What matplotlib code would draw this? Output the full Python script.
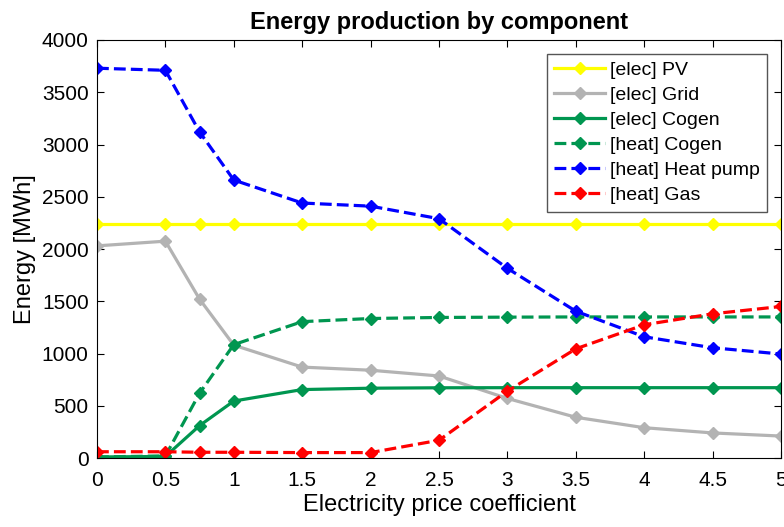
import matplotlib.pyplot as plt

# electricity price coefficient
x = [0, 0.5, 0.75, 1, 1.5, 2, 2.5, 3, 3.5, 4, 4.5, 5]

# energy [MWh]
elec_pv = [2240] * 12
elec_grid = [2030, 2075, 1520, 1080, 870, 840, 785, 570, 390, 290, 240, 210]
elec_cogen = [10, 15, 310, 545, 655, 668, 672, 673, 673, 673, 673, 673]
heat_cogen = [10, 20, 620, 1085, 1305, 1335, 1345, 1348, 1350, 1350, 1350, 1350]
heat_pump = [3730, 3710, 3120, 2660, 2440, 2410, 2290, 1815, 1405, 1160, 1055, 995]
heat_gas = [60, 60, 55, 55, 52, 52, 170, 640, 1045, 1275, 1380, 1450]

plt.rcParams['font.family'] = ['Liberation Sans', 'DejaVu Sans']

fig = plt.figure(figsize=(7.84, 5.27), dpi=100)
ax = fig.add_axes([0.1237, 0.1309, 0.8725, 0.7932])

lw = 2.3
ms = 6
ax.plot(x, elec_pv, '-D', color='#ffff00', lw=lw, ms=ms, label='[elec] PV')
ax.plot(x, elec_grid, '-D', color='#b3b3b3', lw=lw, ms=ms, label='[elec] Grid')
ax.plot(x, elec_cogen, '-D', color='#009650', lw=lw, ms=ms, label='[elec] Cogen')
ax.plot(x, heat_cogen, '--D', color='#009650', lw=lw, ms=ms, label='[heat] Cogen')
ax.plot(x, heat_pump, '--D', color='#0000ff', lw=lw, ms=ms, label='[heat] Heat pump')
ax.plot(x, heat_gas, '--D', color='#ff0000', lw=lw, ms=ms, label='[heat] Gas')

ax.set_xlim(0, 5)
ax.set_ylim(0, 4000)
ax.set_xticks([0, 0.5, 1, 1.5, 2, 2.5, 3, 3.5, 4, 4.5, 5])
ax.set_xticklabels(['0', '0.5', '1', '1.5', '2', '2.5', '3', '3.5', '4', '4.5', '5'])
ax.tick_params(direction='in', labelsize=15, top=True, right=True, length=5)
ax.tick_params(axis='x', pad=9)
ax.tick_params(axis='y', pad=6)

ax.set_xlabel('Electricity price coefficient', fontsize=17, labelpad=3)
ax.set_ylabel('Energy [MWh]', fontsize=17, labelpad=4)
ax.set_title('Energy production by component', fontsize=17, fontweight='bold', pad=8)

leg = ax.legend(loc='upper right', fontsize=14, fancybox=False, framealpha=1,
                edgecolor='#555555', handlelength=2.6, borderaxespad=0.7,
                labelspacing=0.38, handletextpad=0.25, borderpad=0.4)

fig.savefig('out.png', dpi=100)
